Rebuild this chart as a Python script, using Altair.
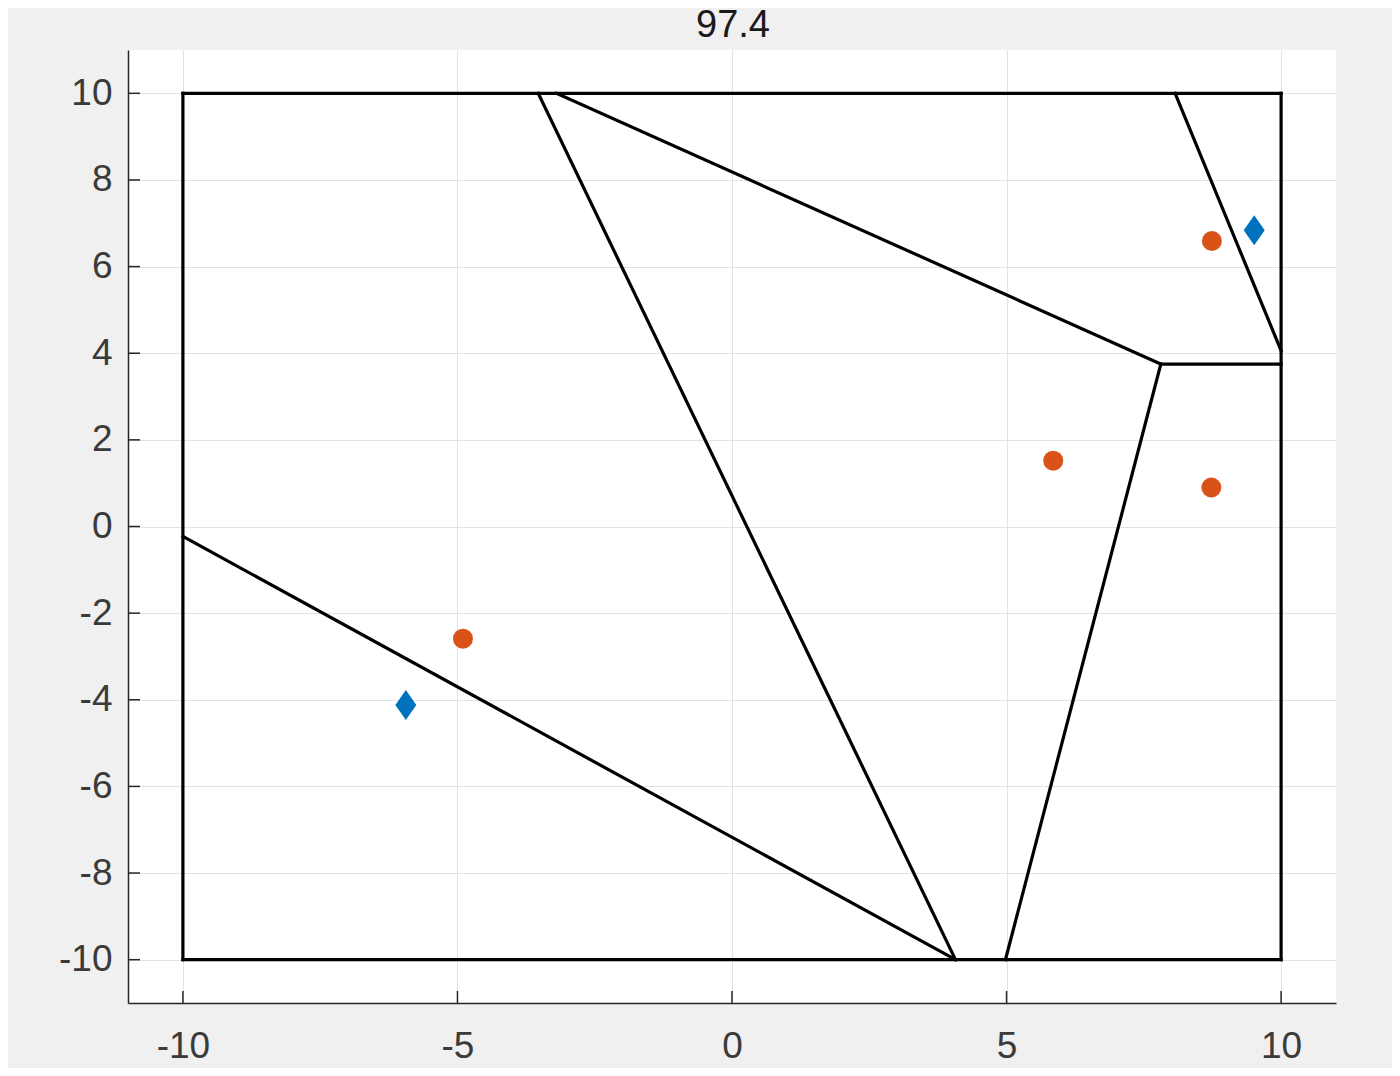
import altair as alt
import pandas as pd

title_text = "97.4"

# line segments (x1, y1, x2, y2)
seg_x1 = [-10, 10, 10, -10, -10.0, -3.53, -3.2, 7.81, 7.81, 8.07]
seg_y1 = [-10, -10, 10, 10, -0.23, 10.0, 10.0, 3.75, 3.75, 10.0]
seg_x2 = [10, 10, -10, -10, 4.07, 4.07, 7.81, 10.0, 4.98, 10.0]
seg_y2 = [-10, 10, 10, -10, -10.0, -10.0, 3.75, 3.75, -10.0, 4.06]

circ_x = [-4.90, 5.85, 8.73, 8.74]
circ_y = [-2.59, 1.52, 0.90, 6.59]

diam_x = [-5.94, 9.51]
diam_y = [-4.12, 6.84]

x_ticks = [-10, -5, 0, 5, 10]
y_ticks = [-10, -8, -6, -4, -2, 0, 2, 4, 6, 8, 10]

W, H = 1208, 953
xs = alt.Scale(domain=[-11, 11], nice=False, zero=False)
ys = alt.Scale(domain=[-11, 11], nice=False, zero=False)

seg = pd.DataFrame({"x1": seg_x1, "y1": seg_y1, "x2": seg_x2, "y2": seg_y2})
circ = pd.DataFrame({"x": circ_x, "y": circ_y})
diam = pd.DataFrame({"x": diam_x, "y": diam_y})
xt = pd.DataFrame({"v": x_ticks})
yt = pd.DataFrame({"v": y_ticks})
tt = pd.DataFrame({"t": [title_text]})

FONT = "Liberation Sans"
LABEL_COLOR = "#3a3a3a"

base_x = alt.X("x1:Q", scale=xs,
               axis=alt.Axis(values=x_ticks, title=None, ticks=False, labelPadding=25,
                             labelFontSize=37, labelFont=FONT, labelColor=LABEL_COLOR,
                             labelExpr="'' + datum.value",
                             domainColor="#262626", domainWidth=1.5, gridColor="#e2e2e2",
                             gridWidth=1, labelFlush=False))
base_y = alt.Y("y1:Q", scale=ys,
               axis=alt.Axis(values=y_ticks, title=None, ticks=False, labelPadding=16,
                             labelFontSize=37, labelFont=FONT, labelColor=LABEL_COLOR,
                             labelExpr="'' + datum.value",
                             domainColor="#262626", domainWidth=1.5, gridColor="#e2e2e2",
                             gridWidth=1, labelFlush=False))

lines = alt.Chart(seg).mark_rule(color="black", strokeWidth=3.2, strokeCap="square").encode(
    x=base_x, y=base_y, x2="x2:Q", y2="y2:Q"
)

circles = alt.Chart(circ).mark_point(shape="circle", filled=True, size=400,
                                     color="#D95319", opacity=1).encode(
    x=alt.X("x:Q", scale=xs), y=alt.Y("y:Q", scale=ys)
)

diamonds = alt.Chart(diam).mark_point(shape="M0,-1L0.7,0L0,1L-0.7,0Z", filled=True,
                                      size=900, color="#0072BD", opacity=1).encode(
    x=alt.X("x:Q", scale=xs), y=alt.Y("y:Q", scale=ys)
)

xticks = alt.Chart(xt).mark_rule(color="#262626", strokeWidth=1.5).encode(
    x=alt.X("v:Q", scale=xs), y=alt.value(H), y2=alt.value(H - 12)
)
yticks = alt.Chart(yt).mark_rule(color="#262626", strokeWidth=1.5).encode(
    y=alt.Y("v:Q", scale=ys), x=alt.value(0), x2=alt.value(12)
)

title = alt.Chart(tt).mark_text(fontSize=38, font=FONT, color="#1a1a1a",
                                align="center", baseline="alphabetic").encode(
    text="t:N", x=alt.value(W / 2 + 1), y=alt.value(-13)
)

chart = alt.layer(lines, xticks, yticks, circles, diamonds, title).properties(
    width=W, height=H,
    background="#f0f0f0",
    padding={"left": 120, "top": 42, "right": 56, "bottom": 65},
    autosize=alt.AutoSizeParams(type="none"),
).configure_view(fill="white", stroke=None)

chart.save("out.html", embed_options={"renderer": "svg", "actions": False})
